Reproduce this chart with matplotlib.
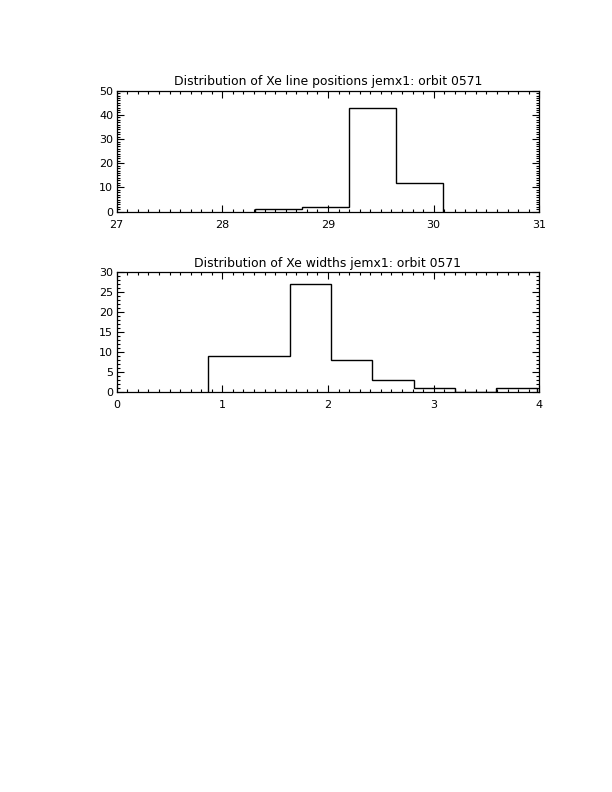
import matplotlib
matplotlib.use("Agg")
import matplotlib.pyplot as plt
from matplotlib.ticker import MultipleLocator

# Data
pos_edges = [28.31, 28.755, 29.20, 29.645, 30.09]
pos_counts = [1, 2, 43, 12]
pos_title = "Distribution of Xe line positions jemx1: orbit 0571"
pos_xticks = [27, 28, 29, 30, 31]
pos_yticks = [0, 10, 20, 30, 40, 50]

wid_edges = [0.867, 1.255, 1.643, 2.03, 2.42, 2.81, 3.20, 3.59, 3.98]
wid_counts = [9, 9, 27, 8, 3, 1, 0, 1]
wid_title = "Distribution of Xe widths jemx1: orbit 0571"
wid_xticks = [0, 1, 2, 3, 4]
wid_yticks = [0, 5, 10, 15, 20, 25, 30]

plt.rcParams['font.family'] = ['DejaVu Sans']

fig = plt.figure(figsize=(6.12, 7.92), dpi=100)
fig.patch.set_facecolor('white')

W, H = 612.0, 792.0
def frac(l, t, r, b):
    return [l / W, 1 - b / H, (r - l) / W, (b - t) / H]

ax1 = fig.add_axes(frac(116.7, 90.7, 539.3, 211.7))
ax2 = fig.add_axes(frac(116.7, 272.3, 539.3, 391.7))

def style(ax, xticks, yticks, xminor, yminor, title):
    ax.set_xlim(xticks[0], xticks[-1])
    ax.set_ylim(yticks[0], yticks[-1])
    ax.set_xticks(xticks)
    ax.set_yticks(yticks)
    ax.set_xticklabels([str(v) for v in xticks])
    ax.set_yticklabels([str(v) for v in yticks])
    ax.xaxis.set_minor_locator(MultipleLocator(xminor))
    ax.yaxis.set_minor_locator(MultipleLocator(yminor))
    ax.tick_params(which='both', direction='in', top=True, right=True,
                   width=0.8, colors='black', labelsize=8)
    ax.tick_params(which='major', length=5)
    ax.tick_params(which='minor', length=2.5)
    ax.tick_params(axis='x', pad=6)
    ax.tick_params(axis='y', pad=2.5)
    for s in ax.spines.values():
        s.set_linewidth(0.9)
        s.set_color('black')
    ax.set_title(title, fontsize=8.9, pad=4)

ax1.stairs(pos_counts, pos_edges, baseline=0, fill=False, color='black', linewidth=1.0)
style(ax1, pos_xticks, pos_yticks, 0.1, 1, pos_title)

ax2.stairs(wid_counts, wid_edges, baseline=0, fill=False, color='black', linewidth=1.0)
style(ax2, wid_xticks, wid_yticks, 0.1, 1, wid_title)

fig.savefig("out.png", dpi=100, facecolor='white')
